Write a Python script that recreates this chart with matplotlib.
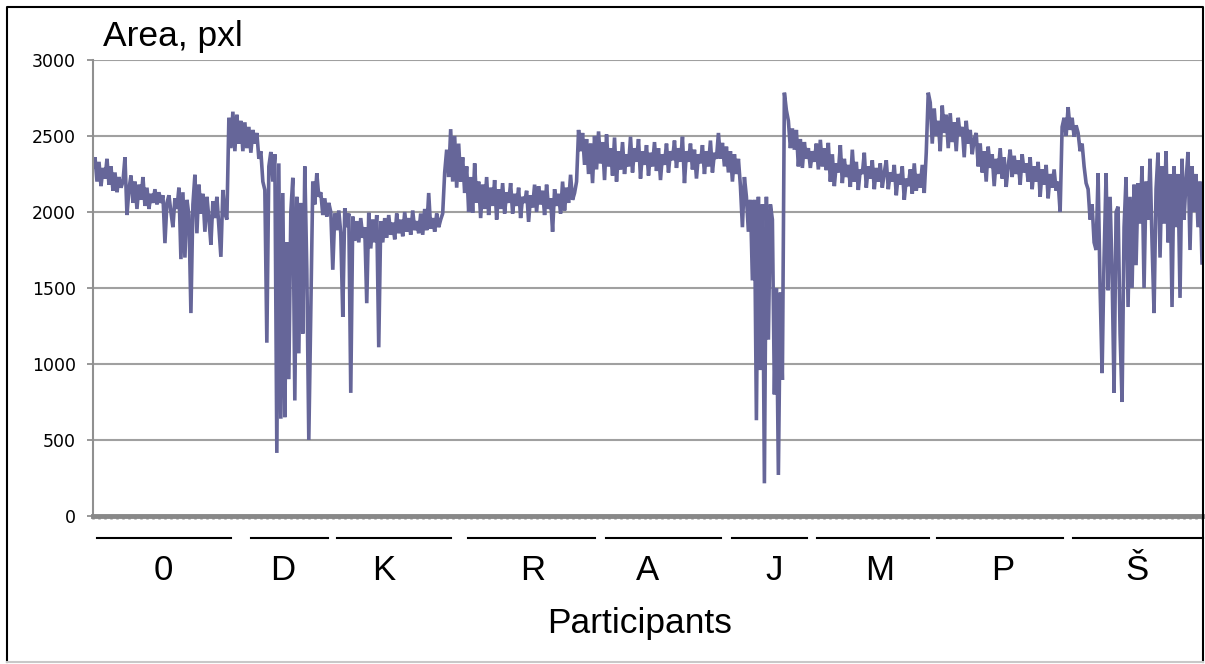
import matplotlib
matplotlib.use("Agg")
import matplotlib.pyplot as plt
from matplotlib.lines import Line2D
import numpy as np

# area per frame, one list per participant
p_0 = [2300, 2360, 2200, 2330, 2170, 2290, 2220,
       2350, 2180, 2300, 2140, 2260, 2130, 2230, 2160,
       2200, 2360, 1980, 2150,
       2240, 2060, 2200, 2020, 2180, 2080, 2230, 2040, 2160, 2020, 2120, 2060,
       2150, 2050, 2130, 2060, 2110,
       1795, 2060,
       2110, 2000, 1900, 2090, 2020,
       2160, 1690, 2130, 1700,
       2080, 1980, 1335, 2050,
       2245, 1860, 2180, 1990, 2120, 1870, 2100, 1960,
       1785, 2070, 1960, 2100, 1900,
       1705, 2145, 1990, 1950]
p_D = [2620, 2420, 2660, 2400, 2640, 2450, 2600,
       2400, 2590, 2420, 2560, 2390, 2540, 2450,
       2520, 2350, 2400, 2200,
       2145, 1140, 2300,
       2395, 2200, 2380,
       415, 2320, 640,
       2125, 650, 1800, 900, 2000,
       2225, 760, 2100,
       1070, 2060, 1200,
       2300, 1620,
       500, 1355]
p_K = [2200, 2050, 2255,
       2100, 2130, 1980, 2090, 1970, 2060, 2000,
       1620, 1990,
       1880, 2010, 1860,
       1310,
       2025, 1900, 1990,
       810,
       1970, 1810, 1940, 1800, 1960, 1830, 1900,
       1400,
       1995, 1760, 1950, 1800, 1980,
       1110,
       1940, 1800, 1960, 1830, 1980, 1850, 1930, 1820, 1990, 1860,
       1950, 1840, 2000, 1870, 1960, 1850, 2010, 1880, 1940, 1860,
       1990, 1850, 2020, 1880, 2125, 1890, 1960, 1870, 1990, 1900,
       1950, 1990]
p_R = [2260, 2410, 2230,
       2545, 2200, 2500, 2160, 2450,
       2200, 2360, 2125, 2300,
       2000, 2230, 1995, 2320,
       2060, 2200, 1960, 2180, 2020, 2230, 1980, 2160, 2040, 2210,
       1950, 2150, 2020, 2190, 1990, 2130, 2060,
       2190, 1990, 2120, 2040, 2160, 1960, 2100, 2060, 2140, 1935,
       2110, 2030, 2180, 2000, 2170, 2050,
       2140, 1980, 2180, 2020, 2090, 1870, 2150, 2040, 2120, 1990,
       2200, 2010, 2160, 2060, 2245, 2080,
       2125, 2200]
p_A = [2540, 2400, 2520, 2310, 2480, 2250, 2450, 2190, 2500, 2280,
       2530, 2320, 2460, 2210, 2510, 2300, 2420, 2240, 2490, 2200,
       2400, 2280, 2460, 2250, 2380, 2300, 2495, 2260, 2420, 2330,
       2480, 2220, 2400, 2310, 2440, 2240, 2390, 2300, 2460, 2270,
       2420, 2210, 2380, 2310, 2450, 2260, 2400, 2340, 2470, 2290,
       2420, 2330, 2495, 2190, 2400, 2330, 2450, 2280, 2410, 2220,
       2380, 2320, 2440, 2250, 2400, 2300, 2470, 2260, 2390, 2350]
p_J = [2520, 2350,
       2455, 2300, 2430, 2260, 2400, 2200, 2380, 2250, 2350, 2170,
       1900, 2230,
       2100, 1870, 2080,
       1550, 2080,
       630,
       2100, 960, 2050,
       215,
       2100, 1160, 2050,
       1950, 800, 1500,
       270,
       1470, 895]
p_M = [2785, 2670,
       2600, 2420, 2550, 2410,
       2540, 2300, 2480, 2290, 2460, 2350, 2420, 2290, 2400, 2330, 2450,
       2280, 2475, 2300, 2420, 2275,
       2455, 2200, 2380, 2170, 2320, 2260, 2440, 2190, 2350, 2230, 2310, 2165,
       2410, 2200, 2330, 2145, 2280, 2250, 2390, 2160, 2300, 2220,
       2340, 2150, 2290, 2200, 2320, 2160, 2260,
       2340, 2150, 2260, 2200, 2310, 2110, 2250, 2180, 2300, 2080,
       2220, 2170, 2280, 2120, 2320, 2140, 2250, 2160, 2310,
       2125]
p_P = [2390, 2785,
       2720, 2450, 2680, 2500, 2600, 2400, 2700, 2520, 2640, 2420,
       2650, 2460, 2590, 2400, 2620, 2500, 2560, 2360, 2600, 2450,
       2540, 2380, 2480,
       2520, 2300, 2450, 2260, 2400, 2200, 2430, 2290, 2380, 2170,
       2350, 2250, 2420, 2220, 2360, 2165, 2300,
       2410, 2230, 2370, 2250, 2340, 2180, 2380, 2260, 2320,
       2200, 2360, 2150, 2300, 2200, 2330, 2100, 2280, 2180, 2310,
       2090, 2250, 2160, 2280, 2140, 2200, 2000]
p_S = [2560, 2620, 2500, 2690, 2540, 2620, 2495, 2570,
       2520, 2400, 2450, 2300, 2190,
       2150, 1950, 2050, 1800, 1750,
       2255, 1500, 940, 1700,
       2255, 1485, 2100, 1600,
       810, 2000,
       2035, 1200, 750, 1900,
       2230, 1375, 2100, 1500, 2180, 1650,
       2190, 1925, 2300, 1500, 2200, 1950, 2350, 1800, 1335, 2150,
       2390, 1700, 2300, 1925, 2400, 1800, 2250, 1375,
       2300, 1900, 2250, 1435, 2350, 1950, 2200,
       2395, 1750, 2300, 2000, 2250, 1900, 2200, 1665]

participants = ["0", "D", "K", "R", "A", "J", "M", "P", "Š"]
yticks = [0, 500, 1000, 1500, 2000, 2500, 3000]

area = np.array(p_0 + p_D + p_K + p_R + p_A + p_J + p_M + p_P + p_S)
frames = np.arange(len(area))

# layout in pixels of the 1205x664 picture
W, H = 1205, 664
underlines = [(97, 231), (251, 328), (337, 451), (468, 595), (606, 721),
              (732, 807), (817, 929), (937, 1063), (1073, 1203)]
label_x = [163, 283, 384, 533, 648, 774, 880, 1003, 1137]

fig = plt.figure(figsize=(W / 100, H / 100), dpi=100)
ax = fig.add_axes([93 / W, 1 - 516 / H, (1202 - 93) / W, (516 - 60) / H])

ax.plot(frames, area, color="#666699", lw=2.6, solid_joinstyle="miter")

ax.set_xlim(0, len(area) - 1)
ax.set_ylim(0, 3000)
ax.set_yticks(yticks)
ax.set_yticklabels([str(v) for v in yticks], fontsize=12.5, family="DejaVu Sans")
ax.yaxis.grid(True, color="#a0a0a0", lw=1.5)
ax.set_axisbelow(True)

ax.set_xticks(np.arange(0, len(area), 3))
ax.set_xticklabels([])
ax.tick_params(axis="x", direction="out", length=2.5, width=1.8, color="#909090")
ax.tick_params(axis="y", direction="out", length=4.5, width=1.3, color="#909090", pad=8)

for s in ["top", "right"]:
    ax.spines[s].set_visible(False)
ax.spines["left"].set_color("#909090")
ax.spines["left"].set_linewidth(1.5)
ax.spines["bottom"].set_color("#888888")
ax.spines["bottom"].set_linewidth(3.5)
ax.spines["bottom"].set_zorder(5)

tf = fig.transFigure
fig.text(103 / W, 1 - 46 / H, "Area, pxl", fontsize=25.5, family="Liberation Sans",
         va="baseline", ha="left")

for (x0, x1), lx, name in zip(underlines, label_x, participants):
    fig.add_artist(Line2D([x0 / W, x1 / W], [1 - 538 / H] * 2, transform=tf,
                          color="black", lw=1.5))
    fig.text(lx / W, 1 - 580 / H, name, fontsize=25, family="Liberation Sans",
             ha="center", va="baseline")

fig.text(640 / W, 1 - 633 / H, "Participants", fontsize=25.5, family="Liberation Sans",
         ha="center", va="baseline")

# outer frame
fig.add_artist(Line2D([7 / W, 7 / W, 1203 / W, 1203 / W], [1 - 662 / H, 1 - 7 / H, 1 - 7 / H, 1 - 662 / H],
                      transform=tf, color="black", lw=1.5))
fig.add_artist(Line2D([7 / W, 1203 / W], [1 - 662 / H] * 2, transform=tf, color="#c8c8c8", lw=1.5))

fig.savefig("out.png", dpi=100)
